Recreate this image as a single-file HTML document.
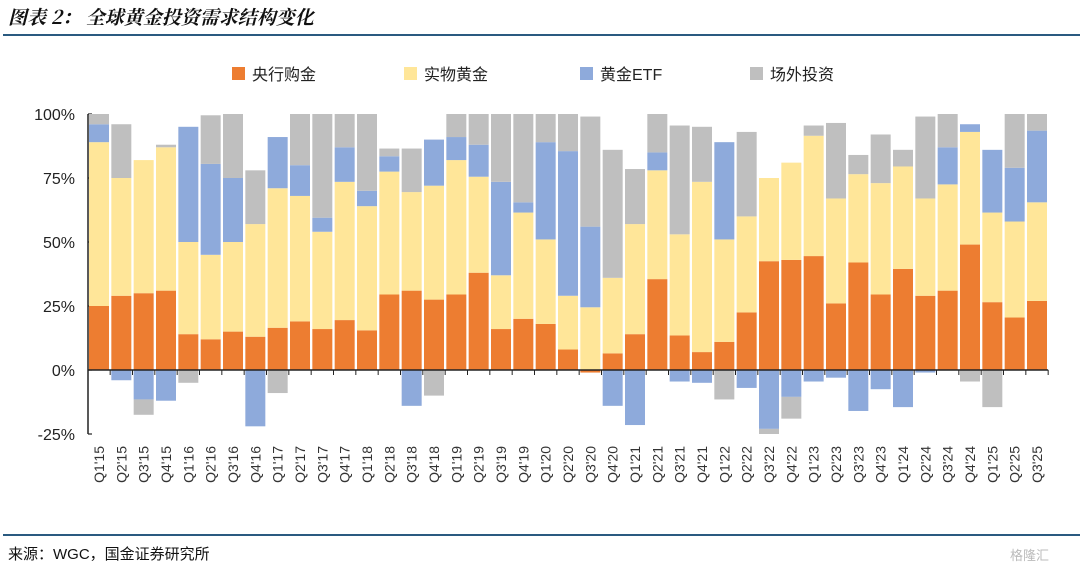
<!DOCTYPE html>
<html><head><meta charset="utf-8"><style>
body{margin:0;background:#fff;}
svg{display:block;font-family:"Liberation Sans","Noto Sans CJK SC",sans-serif;}
</style></head><body>
<svg id="chart" width="1080" height="574" viewBox="0 0 1080 574">
<text x="8" y="24" font-size="19" font-weight="bold" font-style="italic" fill="#111" font-family="'Noto Serif CJK SC','Noto Sans CJK SC',serif">图表 2：  全球黄金投资需求结构变化</text>
<line x1="3" y1="35" x2="1080" y2="35" stroke="#2a5a80" stroke-width="2"/>
<g id="legend"></g>
<g id="plot"></g>
<line x1="3" y1="535" x2="1080" y2="535" stroke="#2a5a80" stroke-width="2"/>
<text x="8" y="559" font-size="15" fill="#111">来源：WGC，国金证券研究所</text>
<text x="1010" y="560" font-size="13" fill="#bbb">格隆汇</text>
</svg>
<script>
const categories=["Q1'15","Q2'15","Q3'15","Q4'15","Q1'16","Q2'16","Q3'16","Q4'16","Q1'17","Q2'17","Q3'17","Q4'17","Q1'18","Q2'18","Q3'18","Q4'18","Q1'19","Q2'19","Q3'19","Q4'19","Q1'20","Q2'20","Q3'20","Q4'20","Q1'21","Q2'21","Q3'21","Q4'21","Q1'22","Q2'22","Q3'22","Q4'22","Q1'23","Q2'23","Q3'23","Q4'23","Q1'24","Q2'24","Q3'24","Q4'24","Q1'25","Q2'25","Q3'25"];
const centralBank=[25,29,30,31,14,12,15,13,16.5,19,16,19.5,15.5,29.5,31,27.5,29.5,38,16,20,18,8,-1,6.5,14,35.5,13.5,7,11,22.5,42.5,43,44.5,26,42,29.5,39.5,29,31,49,26.5,20.5,27];
const physical=[64,46,52,56,36,33,35,44,54.5,49,38,54,48.5,48,38.5,44.5,52.5,37.5,21,41.5,33,21,24.5,29.5,43,42.5,39.5,66.5,40,37.5,32.5,38,47,41,34.5,43.5,40,38,41.5,44,35,37.5,38.5];
const etf=[7,-4,-11.5,-12,45,35.5,25,-22,20,12,5.5,13.5,6,6,-14,18,9,12.5,36.5,4,38,56.5,31.5,-14,-21.5,7,-4.5,-5,38,-7,-23,-10.5,-4.5,-3,-16,-7.5,-14.5,-1,14.5,3,24.5,21,28];
const otc=[4,21,-6,1,-5,19,25,21,-9,20,40.5,13,30,3,17,-10,9,12,26.5,34.5,11,14.5,43,50,21.5,15,42.5,21.5,-11.5,33,-2,-8.5,4,29.5,7.5,19,6.5,32,13,-4.5,-14.5,21,6.5];
const yTicks=[-25,0,25,50,75,100];
const seriesNames=["央行购金","实物黄金","黄金ETF","场外投资"];
const colors=["#ed7d31","#ffe699","#8eaadb","#bfbfbf"];

const NS="http://www.w3.org/2000/svg";
const plot=document.getElementById('plot');
const legend=document.getElementById('legend');
const y0=370, pxPer=2.56, xLeft=88, xStart=99, step=(1037-99)/42, bw=20;
const yScale=v=>y0-v*pxPer;
const xScale=i=>xStart+i*step;
function mk(tag,attrs,parent){const e=document.createElementNS(NS,tag);for(const k in attrs)e.setAttribute(k,attrs[k]);parent.appendChild(e);return e;}

// legend
const legX=[232,404,580,750];
seriesNames.forEach((n,i)=>{
  const r=mk('rect',{x:legX[i],y:67,width:13,height:13,fill:colors[i]},legend);
  
  
  const t=mk('text',{x:legX[i]+20,y:80,'font-size':16,fill:'#222'},legend);
  t.textContent=n;
  
  
});

// y axis labels & ticks
yTicks.forEach(v=>{
  const t=mk('text',{x:75,y:yScale(v)+6,'font-size':16,'text-anchor':'end',fill:'#222'},plot);
  t.textContent=v+'%';
  
  
  const l=mk('line',{x1:xLeft,x2:xLeft+4,y1:yScale(v),y2:yScale(v),stroke:'#222','stroke-width':1.2},plot);
  
  
});

// bars
const series=[centralBank,physical,etf,otc];
categories.forEach((c,i)=>{
  let pos=0,neg=0;
  series.forEach((s,k)=>{
    const v=s[i];
    let top,h;
    if(v>=0){top=yScale(pos+v);h=v*pxPer;pos+=v;}
    else{top=yScale(neg);h=-v*pxPer;neg+=v;}
    const r=mk('rect',{x:xScale(i)-bw/2,y:top,width:bw,height:h,fill:colors[k]},plot);
    
    
  });
  const t=mk('text',{transform:`translate(${xScale(i)+5},446) rotate(-90)`,'font-size':14,'text-anchor':'end',fill:'#333'},plot);
  t.textContent=c;
  
  
  const tk=mk('line',{x1:xScale(i)+step/2,x2:xScale(i)+step/2,y1:y0,y2:y0+5,stroke:'#222','stroke-width':1},plot);
  
  
});
const ax=mk('line',{x1:xLeft,x2:xScale(42)+step/2,y1:y0,y2:y0,stroke:'#222','stroke-width':1.5},plot);


const ay=mk('line',{x1:xLeft,x2:xLeft,y1:yScale(100),y2:yScale(-25),stroke:'#222','stroke-width':1.5},plot);


</script>
</body></html>
